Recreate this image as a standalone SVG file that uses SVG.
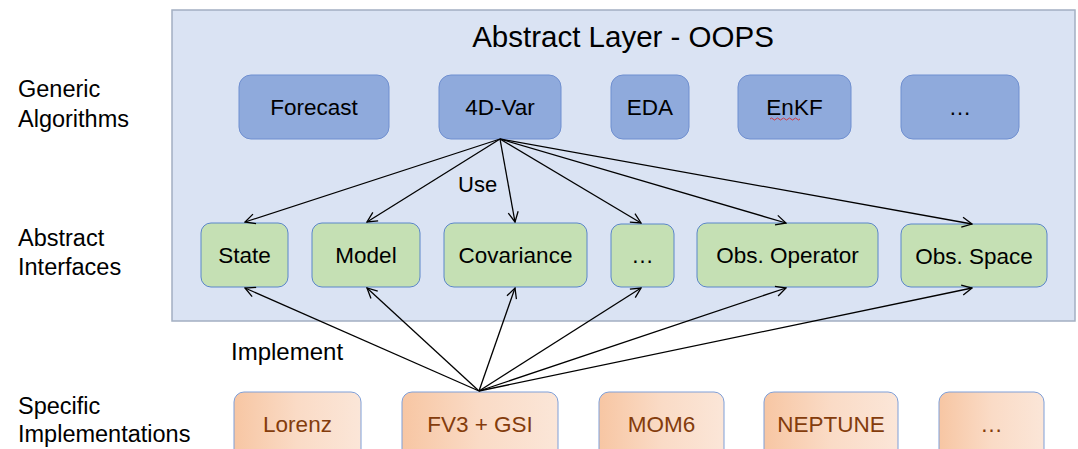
<svg xmlns="http://www.w3.org/2000/svg" width="1078" height="449" viewBox="0 0 1078 449">
<style>
text{font-family:"Liberation Sans",Arial,sans-serif;}
.lbl{font-size:23.5px;fill:#000;}
.t{font-size:22.5px;text-anchor:middle;fill:#000;}
.ti{font-size:22.5px;text-anchor:middle;fill:#843c0c;}
.alg{fill:#8faadc;stroke:#6f8fd0;stroke-width:1;}
.itf{fill:#c5e0b4;stroke:#5b86c9;stroke-width:1;}
.imp{fill:url(#og);stroke:#7f9fd8;stroke-width:1;}
.c{stroke:#000;stroke-width:1.3;fill:none;marker-end:url(#ah);}
</style>
<defs>
<linearGradient id="og" x1="0" y1="0" x2="1" y2="0">
<stop offset="0" stop-color="#f7c6a3"/>
<stop offset="0.5" stop-color="#fadbc6"/>
<stop offset="1" stop-color="#fbe6d8"/>
</linearGradient>
<marker id="ah" viewBox="0 0 12 12" refX="11" refY="6" markerWidth="12" markerHeight="12" markerUnits="userSpaceOnUse" orient="auto">
<path d="M1,1 L11,6 L1,11" fill="none" stroke="#000" stroke-width="1.3"/>
</marker>
</defs>
<rect width="1078" height="449" fill="#fff"/>
<g id="panel">
<rect x="172" y="10" width="903" height="311" fill="#dae3f3" stroke="#a3afc2" stroke-width="1.5"/>
<text x="623" y="47" style="font-size:29.5px;text-anchor:middle;fill:#000">Abstract Layer - OOPS</text>
</g>
<g id="row-labels">
<text class="lbl" x="18" y="97">Generic</text>
<text class="lbl" x="18" y="127">Algorithms</text>
<text class="lbl" x="18" y="246">Abstract</text>
<text class="lbl" x="18" y="275">Interfaces</text>
<text class="lbl" x="18" y="414">Specific</text>
<text class="lbl" x="18" y="442">Implementations</text>
</g>
<g id="forecast"><rect class="alg" x="239" y="75" width="150" height="64" rx="12"/><text class="t" x="314" y="115">Forecast</text></g>
<g id="fourdvar"><rect class="alg" x="439" y="75" width="122" height="64" rx="12"/><text class="t" x="500" y="115">4D-Var</text></g>
<g id="eda"><rect class="alg" x="611" y="75" width="78" height="64" rx="12"/><text class="t" x="650" y="115">EDA</text></g>
<g id="enkf"><rect class="alg" x="738" y="75" width="113" height="64" rx="12"/><text class="t" x="794.5" y="115">EnKF</text><path d="M770,119 q1.5,-2 3,0 t3,0 t3,0 t3,0 t3,0 t3,0 t3,0 t3,0 t3,0 t3,0" fill="none" stroke="#e02020" stroke-width="0.8"/></g>
<g id="alg-more"><rect class="alg" x="901" y="75" width="118" height="64" rx="12"/><text class="t" x="960" y="115">…</text></g>

<g id="state"><rect class="itf" x="201" y="223" width="87" height="64" rx="10"/><text class="t" x="244.5" y="263">State</text></g>
<g id="model"><rect class="itf" x="312" y="223" width="108" height="64" rx="10"/><text class="t" x="366" y="263">Model</text></g>
<g id="covariance"><rect class="itf" x="444" y="223" width="143" height="64" rx="10"/><text class="t" x="515.5" y="263">Covariance</text></g>
<g id="itf-more"><rect class="itf" x="611" y="224" width="63" height="63" rx="10"/><text class="t" x="642.5" y="263">…</text></g>
<g id="obsop"><rect class="itf" x="697" y="223" width="181" height="64" rx="10"/><text class="t" x="787.5" y="263">Obs. Operator</text></g>
<g id="obsspace"><rect class="itf" x="901" y="224" width="146" height="63" rx="10"/><text class="t" x="974" y="264">Obs. Space</text></g>

<g id="lorenz"><rect class="imp" x="234" y="392" width="127" height="80" rx="10"/><text class="ti" x="297.5" y="432">Lorenz</text></g>
<g id="fv3gsi"><rect class="imp" x="402" y="392" width="156" height="80" rx="10"/><text class="ti" x="480" y="432">FV3 + GSI</text></g>
<g id="mom6"><rect class="imp" x="599" y="392" width="125" height="80" rx="10"/><text class="ti" x="661.5" y="432">MOM6</text></g>
<g id="neptune"><rect class="imp" x="764" y="392" width="134" height="80" rx="10"/><text class="ti" x="831" y="432">NEPTUNE</text></g>
<g id="imp-more"><rect class="imp" x="939" y="392" width="105" height="80" rx="10"/><text class="ti" x="991.5" y="432">…</text></g>

<g id="connectors">
<line class="c" x1="500" y1="139" x2="245" y2="222"/>
<line class="c" x1="500" y1="139" x2="367" y2="222"/>
<line class="c" x1="500" y1="139" x2="515" y2="222"/>
<line class="c" x1="500" y1="139" x2="641" y2="223"/>
<line class="c" x1="500" y1="139" x2="786" y2="223"/>
<line class="c" x1="500" y1="139" x2="972" y2="224"/>
<line class="c" x1="479" y1="391" x2="245" y2="288"/>
<line class="c" x1="479" y1="391" x2="367" y2="288"/>
<line class="c" x1="479" y1="391" x2="515" y2="288"/>
<line class="c" x1="479" y1="391" x2="641" y2="288"/>
<line class="c" x1="479" y1="391" x2="786" y2="288"/>
<line class="c" x1="479" y1="391" x2="972" y2="288"/>
<text class="lbl" x="458" y="192" style="font-size:22px">Use</text>
<text class="lbl" x="231" y="360" style="font-size:24px">Implement</text>
</g>
</svg>
